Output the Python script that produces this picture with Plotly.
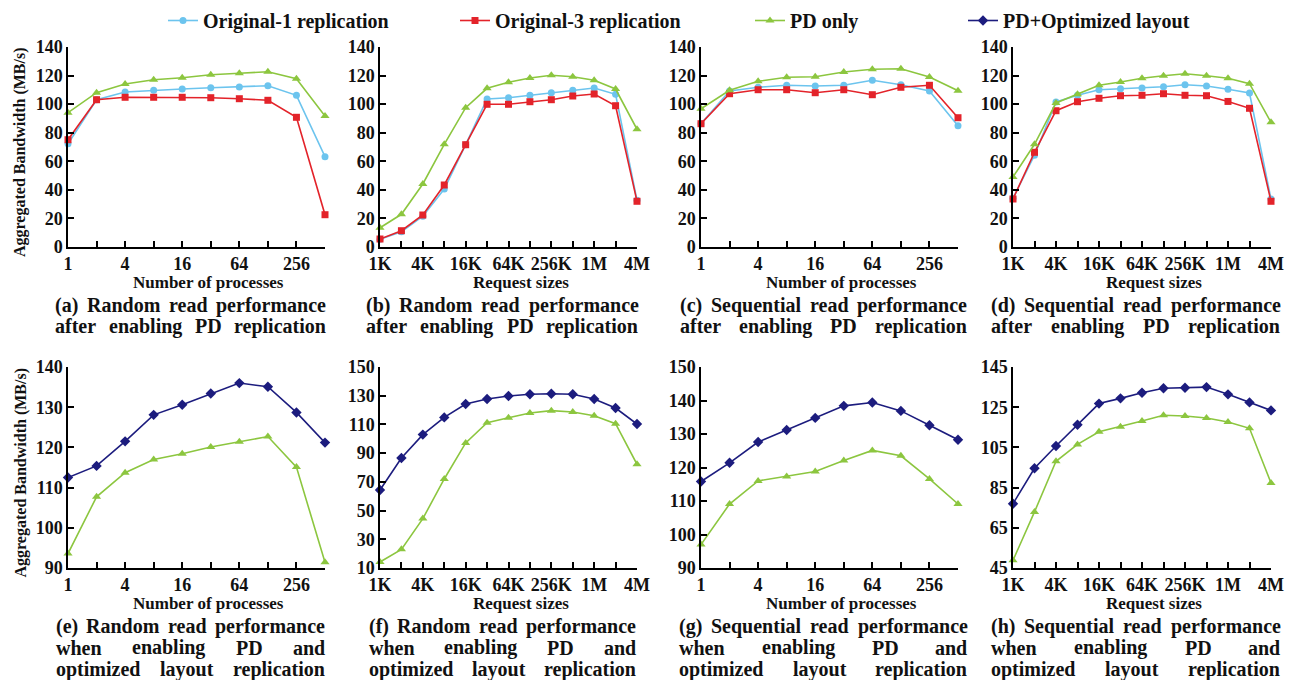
import math
import plotly.graph_objects as go

# ---------------- data ----------------
procs = [1, 2, 4, 8, 16, 32, 64, 128, 256, 512]
procs_labels = ["1", "", "4", "", "16", "", "64", "", "256", ""]
sizes_kb = [1, 2, 4, 8, 16, 32, 64, 128, 256, 512, 1024, 2048, 4096]
sizes_labels = ["1K", "", "4K", "", "16K", "", "64K", "", "256K", "", "1M", "", "4M"]

a_orig1 = [72.3, 103.1, 108.5, 109.7, 110.6, 111.5, 112.0, 112.9, 106.2, 63.2]
a_orig3 = [75.1, 103.1, 104.8, 104.8, 104.8, 104.5, 103.8, 102.7, 90.8, 22.6]
a_pd = [94.0, 108.0, 114.1, 117.1, 118.5, 120.6, 121.6, 122.7, 117.8, 91.7]

b_orig1 = [5.4, 10.7, 21.5, 40.6, 71.6, 103.6, 104.5, 106.2, 108.0, 109.7, 111.3, 106.9, 32.7]
b_orig3 = [5.6, 11.4, 22.4, 43.4, 71.6, 99.9, 99.9, 101.7, 103.1, 105.7, 107.1, 98.9, 32.0]
b_pd = [13.5, 22.9, 44.1, 71.9, 97.5, 111.1, 115.3, 118.3, 120.2, 119.2, 116.7, 110.6, 82.4]

c_orig1 = [86.3, 109.2, 111.8, 113.2, 112.7, 113.2, 116.7, 113.6, 109.2, 84.9]
c_orig3 = [86.3, 107.3, 110.1, 110.1, 108.0, 110.1, 106.6, 111.8, 113.2, 90.5]
c_pd = [96.8, 109.7, 116.0, 118.8, 119.2, 122.5, 124.4, 124.8, 119.0, 109.4]

d_orig1 = [34.1, 64.2, 101.5, 106.2, 110.1, 110.8, 111.3, 112.2, 113.6, 112.7, 110.4, 107.8, 33.6]
d_orig3 = [33.6, 66.3, 95.4, 101.7, 104.1, 105.9, 106.2, 107.3, 106.2, 105.9, 101.9, 97.1, 32.0]
d_pd = [49.0, 71.9, 100.8, 106.9, 113.2, 115.5, 118.1, 119.9, 121.3, 119.9, 118.1, 114.3, 87.3]

e_pd = [93.6, 107.7, 113.7, 117.0, 118.4, 120.1, 121.4, 122.7, 115.1, 91.4]
e_opt = [112.5, 115.4, 121.5, 128.1, 130.6, 133.4, 136.0, 135.1, 128.7, 121.2]

f_pd = [14.2, 23.0, 44.4, 72.0, 97.1, 111.2, 114.7, 118.0, 119.6, 118.7, 116.1, 110.5, 82.2]
f_opt = [64.3, 86.6, 102.9, 114.9, 124.2, 127.7, 129.8, 131.0, 131.4, 131.0, 127.7, 121.4, 110.3]

g_pd = [97.0, 109.1, 116.0, 117.3, 118.8, 122.1, 125.1, 123.5, 116.6, 109.1]
g_opt = [115.8, 121.4, 127.6, 131.2, 134.8, 138.4, 139.4, 136.9, 132.6, 128.3]

h_pd = [48.8, 72.9, 98.1, 106.5, 112.8, 115.3, 118.1, 121.0, 120.6, 119.6, 117.6, 114.5, 87.3]
h_opt = [77.0, 94.6, 105.7, 116.3, 126.8, 129.4, 132.2, 134.4, 134.7, 135.0, 131.4, 127.4, 123.4]

series_names = ["Original-1 replication", "Original-3 replication", "PD only", "PD+Optimized layout"]

captions = {
    "a": ["(a) Random read performance", "after enabling PD replication"],
    "b": ["(b) Random read performance", "after enabling PD replication"],
    "c": ["(c) Sequential read performance", "after enabling PD replication"],
    "d": ["(d) Sequential read performance", "after enabling PD replication"],
    "e": ["(e) Random read performance", "when enabling PD and", "optimized layout replication"],
    "f": ["(f) Random read performance", "when enabling PD and", "optimized layout replication"],
    "g": ["(g) Sequential read performance", "when enabling PD and", "optimized layout replication"],
    "h": ["(h) Sequential read performance", "when enabling PD and", "optimized layout replication"],
}

# ---------------- style ----------------
# The page body has an 8px default margin, so the figure is drawn 8px in.
OFF = 8
W, H = 1308 - OFF, 680 - OFF
FONT = "Liberation Serif"
COL = {
    series_names[0]: "#6cc4ee",
    series_names[1]: "#e3232a",
    series_names[2]: "#8cc63f",
    series_names[3]: "#1c1c7e",
}
SYM = {
    series_names[0]: "circle",
    series_names[1]: "square",
    series_names[2]: "triangle-up",
    series_names[3]: "diamond",
}
MSIZE = {series_names[0]: 7, series_names[1]: 7, series_names[2]: 8, series_names[3]: 8}

# page-pixel geometry of the plot areas
xcols = [(68, 325), (380, 637), (701, 958), (1013, 1271)]
yrows = [(47, 247), (367, 568)]

def px_x(p):
    return (p - OFF) / W

def px_y(p):
    return 1 - (p - OFF) / H

panels = [
    ("a", 0, 0, "p", (0, 140), 20, [(series_names[0], a_orig1), (series_names[1], a_orig3), (series_names[2], a_pd)]),
    ("b", 0, 1, "s", (0, 140), 20, [(series_names[0], b_orig1), (series_names[1], b_orig3), (series_names[2], b_pd)]),
    ("c", 0, 2, "p", (0, 140), 20, [(series_names[0], c_orig1), (series_names[1], c_orig3), (series_names[2], c_pd)]),
    ("d", 0, 3, "s", (0, 140), 20, [(series_names[0], d_orig1), (series_names[1], d_orig3), (series_names[2], d_pd)]),
    ("e", 1, 0, "p", (90, 140), 10, [(series_names[2], e_pd), (series_names[3], e_opt)]),
    ("f", 1, 1, "s", (10, 150), 20, [(series_names[2], f_pd), (series_names[3], f_opt)]),
    ("g", 1, 2, "p", (90, 150), 10, [(series_names[2], g_pd), (series_names[3], g_opt)]),
    ("h", 1, 3, "s", (45, 145), 20, [(series_names[2], h_pd), (series_names[3], h_opt)]),
]

# Times-Bold character widths (per 1000 em) for justified captions
TB = {
    'a': 500, 'b': 556, 'c': 444, 'd': 556, 'e': 444, 'f': 333, 'g': 500, 'h': 556, 'i': 278,
    'j': 333, 'k': 556, 'l': 278, 'm': 833, 'n': 556, 'o': 500, 'p': 556, 'q': 556, 'r': 444,
    's': 389, 't': 333, 'u': 556, 'v': 500, 'w': 722, 'x': 500, 'y': 500, 'z': 444,
    'A': 722, 'B': 667, 'C': 722, 'D': 722, 'E': 667, 'F': 611, 'G': 778, 'H': 778, 'I': 389,
    'L': 667, 'M': 944, 'N': 722, 'O': 778, 'P': 611, 'R': 722, 'S': 556, 'T': 667,
    '(': 333, ')': 333, ' ': 250, '-': 333, '+': 570, '/': 278,
}

def text_w(s, size):
    return sum(TB.get(ch, 500) for ch in s) * size / 1000.0

fig = go.Figure()
legend_used = set()
legend_ids = {series_names[0]: "legend", series_names[1]: "legend2",
              series_names[2]: "legend3", series_names[3]: "legend4"}

annotations = []
CAP_SIZE = 20

for idx, (key, r, c, kind, yr, dt, series) in enumerate(panels):
    n = idx + 1
    xa = "x" if n == 1 else f"x{n}"
    ya = "y" if n == 1 else f"y{n}"
    xvals = procs if kind == "p" else sizes_kb
    xlabels = procs_labels if kind == "p" else sizes_labels
    for name, vals in series:
        show = name not in legend_used
        legend_used.add(name)
        fig.add_trace(go.Scatter(
            x=xvals, y=vals, mode="lines+markers", name=name,
            xaxis=xa, yaxis=ya, showlegend=show, legend=legend_ids[name],
            line=dict(color=COL[name], width=1.6),
            marker=dict(symbol=SYM[name], size=MSIZE[name], color=COL[name]),
            cliponaxis=False,
        ))
    x0, x1 = xcols[c]
    yt, yb = yrows[r]
    axis_common = dict(
        showline=True, linecolor="black", linewidth=1.5, showgrid=False, zeroline=False,
        ticks="inside", ticklen=6, tickwidth=1.5, tickcolor="black", automargin=False,
        tickfont=dict(family=FONT, size=18, color="#111", weight="bold"),
    )
    fig.update_layout(**{
        ("xaxis" if n == 1 else f"xaxis{n}"): dict(
            axis_common, type="log", domain=[px_x(x0), px_x(x1)],
            range=[0, math.log10(xvals[-1])], tickvals=xvals, ticktext=xlabels,
            anchor=ya,
        ),
        ("yaxis" if n == 1 else f"yaxis{n}"): dict(
            axis_common, domain=[px_y(yb), px_y(yt)], range=list(yr), dtick=dt,
            tick0=yr[0], anchor=xa,
        ),
    })
    # x-axis title
    xt = "Number of processes" if kind == "p" else "Request sizes"
    annotations.append(dict(
        text=xt, x=px_x((x0 + x1) / 2 + 12), y=px_y(yb + 35), xref="paper", yref="paper",
        xanchor="center", yanchor="middle", showarrow=False, borderpad=0,
        font=dict(family=FONT, size=17, color="#111", weight="bold"),
    ))
    # captions, justified
    lines = captions[key]
    width = text_w(lines[0], CAP_SIZE) * 1.04
    cx = (x0 + x1) / 2 - 7
    left = cx - width / 2
    base_y = yb + 58
    for li, line in enumerate(lines):
        words = line.split()
        ww = [text_w(w_, CAP_SIZE) for w_ in words]
        gap = (width - sum(ww)) / (len(words) - 1)
        xpos = left
        ly = base_y + li * 21.5
        for w_, wl in zip(words, ww):
            annotations.append(dict(
                text=w_, x=px_x(xpos), y=px_y(ly), xref="paper", yref="paper",
                xanchor="left", yanchor="middle", showarrow=False, borderpad=0,
                font=dict(family=FONT, size=CAP_SIZE, color="#111", weight="bold"),
            ))
            xpos += wl + gap
    # y-axis title for first column
    if c == 0:
        annotations.append(dict(
            text="Aggregated Bandwidth (MB/s)", x=px_x(20), y=px_y((yt + yb) / 2 + 5),
            xref="paper", yref="paper", textangle=-90, xanchor="center", yanchor="middle",
            showarrow=False, borderpad=0,
            font=dict(family=FONT, size=16, color="#111", weight="bold"),
        ))

leg_font = dict(family=FONT, size=20, color="#111", weight="bold")
text_starts = [205, 497, 792, 1005]
leg_layout = {}
for i, ts in enumerate(text_starts):
    lid = "legend" if i == 0 else f"legend{i + 1}"
    leg_layout[lid] = dict(
        x=px_x(ts - 42), y=px_y(1), xref="paper", yref="paper",
        xanchor="left", yanchor="top",
        font=leg_font, bgcolor="rgba(0,0,0,0)", borderwidth=0,
        orientation="h", itemwidth=30,
    )

fig.update_layout(
    width=W, height=H, autosize=False,
    margin=dict(l=0, r=0, t=0, b=0, autoexpand=False),
    paper_bgcolor="white", plot_bgcolor="white",
    annotations=annotations,
    **leg_layout,
)

fig.write_html("out.html")
